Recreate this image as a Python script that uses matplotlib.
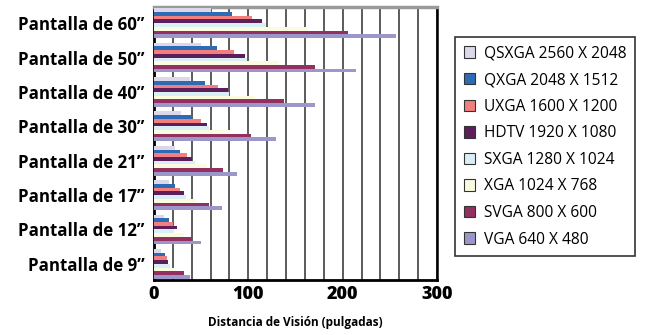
import matplotlib
matplotlib.use("Agg")
import matplotlib.pyplot as plt
import numpy as np

plt.rcParams['font.family'] = ['Open Sans', 'DejaVu Sans']

# categorias (de abajo hacia arriba)
pantallas = ['Pantalla de 9\u201d', 'Pantalla de 12\u201d', 'Pantalla de 17\u201d',
             'Pantalla de 21\u201d', 'Pantalla de 30\u201d', 'Pantalla de 40\u201d',
             'Pantalla de 50\u201d', 'Pantalla de 60\u201d']

# series, valores en el mismo orden que pantallas
qsxga = [7.5, 11, 16, 22, 29, 38, 50, 60]
qxga = [12, 16, 22, 28, 40, 54, 67, 83]
uxga = [14, 20, 28, 35, 50, 68, 85, 104]
hdtv = [15, 24.5, 32, 40, 56, 78, 96, 115]
sxga = [17, 21, 34, 43, 58.5, 80, 99, 119]
xga = [21, 32, 45, 56, 81, 107, 132, 162]
svga = [32, 40, 58.5, 73, 103, 138, 171, 206]
vga = [38, 50, 72, 88, 129, 171, 214, 257]

nombres = ['QSXGA 2560 X 2048', 'QXGA 2048 X 1512', 'UXGA 1600 X 1200',
           'HDTV 1920 X 1080', 'SXGA 1280 X 1024', 'XGA 1024 X 768',
           'SVGA 800 X 600', 'VGA 640 X 480']
series = [qsxga, qxga, uxga, hdtv, sxga, xga, svga, vga]
colores = ['#DCD8EA', '#2E6BB5', '#F27E7E', '#5C1F5C',
           '#D8F0F5', '#FBFBE0', '#943061', '#9B97CA']

fig = plt.figure(figsize=(6.57, 3.35), dpi=100)
ax = fig.add_axes([0.2344, 0.1642, 0.4307, 0.8148])

y = np.arange(len(pantallas))
h = 0.108
handles = []
for i, (vals, col, nom) in enumerate(zip(series, colores, nombres)):
    off = (3.5 - i) * h
    b = ax.barh(y + off, vals, height=h, color=col, zorder=3, label=nom)
    handles.append(b)

ax.set_xlim(0, 300)
ax.set_ylim(-0.47, 7.47)
ax.set_xticks([0, 100, 200, 300])
ax.set_xticks(np.arange(0, 301, 20), minor=True)
ax.xaxis.grid(True, which='both', color='#404040', lw=1.2, zorder=1)
ax.set_yticks(y)
ax.set_yticklabels(pantallas, fontsize=12.2, fontweight='bold')
for t in ax.get_xticklabels():
    t.set_fontsize(13)
    t.set_fontweight('heavy')
ax.tick_params(axis='both', which='both', length=0)
ax.tick_params(axis='y', pad=7)
ax.tick_params(axis='x', pad=4)
ax.set_xlabel('Distancia de Visi\u00f3n (pulgadas)', fontsize=8.5,
              fontweight='bold', labelpad=10)

for s in ['left', 'bottom']:
    ax.spines[s].set_linewidth(2)
    ax.spines[s].set_color('black')
ax.spines['top'].set_color('#9a9a9a')
ax.spines['top'].set_linewidth(2.5)
ax.spines['right'].set_color('black')
ax.spines['right'].set_linewidth(1.8)

leg = fig.legend(handles=handles, loc='upper left',
                 bbox_to_anchor=(455 / 657, 1 - 37 / 335), borderaxespad=0,
                 frameon=True, fancybox=False, edgecolor='black',
                 fontsize=11.2, handlelength=0.75, handleheight=0.75,
                 handletextpad=0.55, labelspacing=0.68, borderpad=0.55)
leg.get_frame().set_linewidth(1.2)
for p in leg.get_patches():
    p.set_edgecolor('#333333')
    p.set_linewidth(0.8)

fig.savefig('out.png', dpi=100)
